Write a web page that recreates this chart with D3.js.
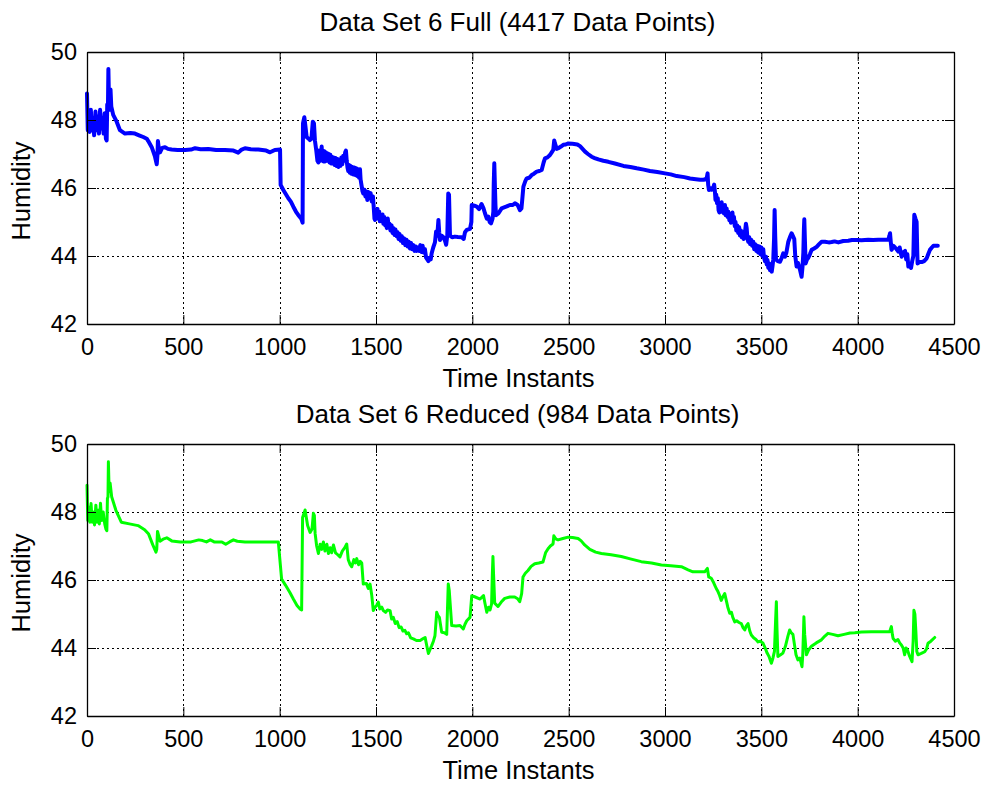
<!DOCTYPE html>
<html>
<head>
<meta charset="utf-8">
<script src="https://cdn.jsdelivr.net/npm/d3@7"></script>
<style>
  body { margin: 0; background: #fff; }
  text { font-family: "Liberation Sans", Arial, sans-serif; fill: #000; }
</style>
</head>
<body>
<svg id="chart" width="988" height="788"></svg>
<script>
// axis ranges + ticks
const xTicks = [0, 500, 1000, 1500, 2000, 2500, 3000, 3500, 4000, 4500];
const yTicks = [42, 44, 46, 48, 50];

// full data set ([time instant, humidity])
const fullData = [
  [0,48.78],[4,47.7],[9,48.2],[14,47.65],[20,48.3],[25,47.7],[31,48.05],[37,47.55],[44,48.25],[50,47.7],
  [56,48.1],[62,47.6],[68,48.3],[74,47.75],[80,48.05],[86,47.6],[92,48.2],[98,47.45],[102,47.4],[105,48.45],
  [109,48.5],[111,49.5],[114,48.6],[118,48.3],[122,48.9],[126,48.4],[136,48.15],[154,47.95],[171,47.7],[197,47.6],
  [225,47.62],[249,47.6],[270,47.55],[292,47.5],[310,47.45],[318,47.38],[336,47.2],[353,46.92],[362,46.7],[366,47.0],
  [368,47.38],[374,47.1],[379,47.05],[390,47.18],[405,47.2],[420,47.15],[439,47.13],[470,47.12],[509,47.12],[540,47.13],
  [561,47.17],[590,47.14],[630,47.15],[670,47.12],[716,47.12],[760,47.1],[785,47.04],[800,47.12],[820,47.17],[850,47.14],
  [889,47.13],[930,47.1],[950,47.05],[975,47.12],[1002,47.13],[1005,46.09],[1019,45.94],[1045,45.7],[1058,45.6],[1071,45.45],
  [1085,45.3],[1097,45.2],[1112,45.1],[1119,44.98],[1121,47.9],[1128,48.08],[1134,47.8],[1140,47.5],[1150,47.45],[1157,47.41],
  [1165,47.45],[1172,47.95],[1178,47.9],[1183,47.4],[1190,47.1],[1196,46.8],[1201,46.75],[1204,47.1],[1207,46.85],[1210,47.1],
  [1213,46.8],[1218,47.22],[1221,46.85],[1224,47.1],[1228,46.78],[1232,47.08],[1235,46.78],[1239,47.05],[1243,46.8],[1247,47.02],
  [1251,46.8],[1255,47.0],[1259,46.75],[1263,46.98],[1267,46.72],[1271,46.92],[1275,46.72],[1280,46.9],[1285,46.68],[1290,46.88],
  [1295,46.65],[1300,46.85],[1305,46.62],[1310,46.8],[1315,46.65],[1320,46.9],[1325,46.7],[1330,46.95],[1335,46.8],[1340,47.05],
  [1344,47.1],[1348,46.8],[1352,46.6],[1356,46.5],[1360,46.68],[1364,46.45],[1368,46.65],[1372,46.42],[1377,46.62],[1382,46.4],
  [1387,46.6],[1392,46.38],[1397,46.58],[1402,46.35],[1407,46.55],[1412,46.3],[1417,46.55],[1420,46.25],[1426,46.04],[1430,45.9],
  [1434,45.84],[1440,45.95],[1445,45.75],[1450,45.9],[1455,45.65],[1460,45.88],[1466,45.7],[1472,45.85],[1478,45.6],[1484,45.75],
  [1488,45.45],[1492,45.1],[1495,45.06],[1499,45.35],[1503,45.15],[1508,45.38],[1512,45.1],[1517,45.3],[1520,45.02],[1525,45.2],
  [1529,45.05],[1534,45.22],[1538,44.95],[1543,45.15],[1548,44.9],[1552,45.05],[1556,44.82],[1561,45.1],[1566,44.85],[1570,44.95],
  [1575,44.75],[1581,44.9],[1586,44.68],[1591,44.82],[1596,44.62],[1601,44.78],[1607,44.58],[1612,44.7],[1617,44.5],[1622,44.65],
  [1628,44.45],[1634,44.58],[1640,44.38],[1646,44.52],[1652,44.32],[1658,44.48],[1664,44.28],[1670,44.42],[1676,44.22],[1682,44.38],
  [1688,44.2],[1694,44.32],[1700,44.15],[1706,44.28],[1712,44.15],[1718,44.25],[1724,44.15],[1730,44.32],[1736,44.12],[1742,44.3],
  [1748,44.1],[1754,44.2],[1760,43.95],[1766,43.9],[1772,43.85],[1778,43.95],[1784,43.9],[1789,44.08],[1797,44.25],[1806,44.4],
  [1812,44.72],[1818,44.6],[1824,45.06],[1828,44.7],[1832,44.47],[1840,44.6],[1850,44.55],[1858,44.45],[1864,44.33],[1870,44.6],
  [1875,45.84],[1879,45.8],[1884,44.6],[1895,44.55],[1910,44.57],[1925,44.56],[1945,44.55],[1955,44.5],[1962,44.7],[1971,44.77],
  [1988,44.8],[1995,45.0],[1997,45.5],[2010,45.48],[2023,45.45],[2035,45.38],[2048,45.53],[2058,45.4],[2066,45.25],[2075,45.1],
  [2083,45.16],[2090,45.0],[2097,44.96],[2105,45.1],[2109,45.3],[2111,46.1],[2114,46.73],[2117,46.1],[2120,45.5],[2123,45.2],
  [2135,45.25],[2152,45.4],[2175,45.45],[2195,45.5],[2210,45.5],[2221,45.55],[2235,45.5],[2247,45.35],[2255,45.4],[2259,45.65],
  [2265,46.04],[2275,46.2],[2282,46.28],[2295,46.3],[2308,46.38],[2320,46.42],[2334,46.48],[2348,46.5],[2360,46.53],[2370,46.75],
  [2377,46.87],[2390,46.9],[2403,46.97],[2412,47.05],[2420,47.12],[2425,47.4],[2429,47.31],[2438,47.15],[2446,47.17],[2460,47.22],
  [2472,47.27],[2485,47.28],[2498,47.31],[2520,47.3],[2545,47.28],[2559,47.23],[2572,47.15],[2585,47.07],[2600,47.0],[2619,46.92],
  [2635,46.88],[2654,46.84],[2680,46.8],[2706,46.77],[2740,46.72],[2784,46.65],[2820,46.62],[2853,46.58],[2890,46.54],[2922,46.5],
  [2960,46.47],[3000,46.43],[3030,46.4],[3061,46.35],[3100,46.32],[3130,46.28],[3160,46.26],[3182,46.24],[3200,46.24],[3208,46.26],
  [3215,46.25],[3221,46.43],[3224,46.1],[3228,45.94],[3235,46.0],[3242,45.95],[3250,46.0],[3255,46.1],[3259,45.9],[3262,45.65],
  [3266,45.8],[3270,45.55],[3274,45.7],[3278,45.35],[3282,45.28],[3286,45.5],[3290,45.35],[3294,45.58],[3298,45.3],[3302,45.48],
  [3306,45.25],[3311,45.5],[3315,45.2],[3320,45.4],[3325,45.15],[3329,45.3],[3334,45.05],[3338,45.2],[3342,44.98],[3346,45.1],
  [3350,45.28],[3354,45.0],[3358,45.15],[3362,44.88],[3366,45.0],[3370,44.75],[3375,44.9],[3380,44.68],[3385,44.85],[3389,44.6],
  [3394,44.75],[3398,44.55],[3403,44.7],[3408,44.5],[3414,44.65],[3420,44.95],[3424,44.82],[3428,44.5],[3432,44.42],[3437,44.55],
  [3442,44.35],[3447,44.48],[3452,44.3],[3458,44.42],[3463,44.2],[3468,44.35],[3474,44.15],[3479,44.3],[3484,44.1],[3490,44.28],
  [3495,44.05],[3500,44.25],[3505,44.0],[3510,44.2],[3514,43.95],[3519,43.85],[3524,43.98],[3528,43.75],[3532,43.88],[3536,43.65],
  [3541,43.78],[3545,43.58],[3550,43.7],[3554,43.54],[3558,43.7],[3562,43.9],[3566,44.5],[3569,45.35],[3572,44.6],[3576,43.9],
  [3585,43.85],[3597,43.83],[3606,43.95],[3614,44.08],[3623,43.98],[3630,44.1],[3640,44.42],[3648,44.55],[3657,44.67],[3663,44.6],
  [3671,44.5],[3676,44.0],[3683,43.69],[3690,43.8],[3701,43.59],[3709,43.39],[3714,43.7],[3718,44.1],[3721,44.8],[3723,45.08],
  [3726,44.5],[3730,43.78],[3737,43.9],[3744,43.95],[3752,44.05],[3761,44.18],[3774,44.22],[3787,44.27],[3800,44.35],[3813,44.42],
  [3830,44.42],[3850,44.4],[3865,44.41],[3880,44.43],[3900,44.4],[3925,44.44],[3951,44.45],[3970,44.47],[3995,44.47],[4020,44.46],
  [4055,44.48],[4080,44.47],[4107,44.48],[4135,44.48],[4159,44.48],[4165,44.6],[4168,44.67],[4172,44.4],[4176,44.18],[4185,44.3],
  [4194,44.25],[4202,44.2],[4211,44.13],[4218,44.25],[4228,43.98],[4236,44.1],[4246,44.15],[4252,43.9],[4258,44.05],[4263,43.69],
  [4270,43.75],[4277,43.65],[4283,43.85],[4289,44.0],[4292,44.8],[4294,45.21],[4300,45.1],[4306,45.0],[4309,44.2],[4311,43.78],
  [4320,43.82],[4332,43.82],[4345,43.85],[4358,43.93],[4366,44.05],[4375,44.18],[4385,44.25],[4393,44.3],[4405,44.3],[4416,44.3]
];

// reduced data set
const reducedData = [
  [0,48.79],[4,47.75],[9,48.15],[15,47.7],[21,48.25],[27,47.7],[33,48.0],[39,47.62],[46,48.2],[52,47.7],
  [58,48.05],[64,47.65],[70,48.26],[76,47.75],[84,48.0],[92,47.65],[98,47.5],[103,47.45],[106,48.4],[109,48.45],
  [111,49.48],[115,48.6],[120,48.85],[128,48.45],[150,48.05],[178,47.7],[220,47.65],[265,47.6],[299,47.48],[320,47.35],
  [341,47.04],[358,46.82],[362,46.9],[366,47.43],[379,47.14],[395,47.2],[414,47.24],[440,47.15],[484,47.12],[540,47.12],
  [580,47.18],[600,47.16],[620,47.12],[640,47.18],[660,47.12],[700,47.12],[720,47.05],[740,47.12],[760,47.18],[780,47.14],
  [820,47.12],[880,47.12],[940,47.12],[993,47.12],[1010,46.03],[1030,45.85],[1053,45.63],[1071,45.44],[1090,45.25],[1105,45.15],
  [1114,45.12],[1119,47.84],[1132,48.06],[1145,47.6],[1158,47.4],[1168,47.5],[1175,47.96],[1180,47.9],[1184,47.37],[1192,47.0],
  [1201,46.78],[1210,47.05],[1218,46.9],[1227,47.12],[1235,46.85],[1245,47.05],[1253,46.78],[1262,46.95],[1270,46.8],[1279,47.03],
  [1290,46.8],[1300,46.75],[1313,46.68],[1325,46.85],[1338,46.95],[1348,47.06],[1356,46.6],[1366,46.45],[1374,46.39],[1385,46.6],
  [1393,46.5],[1400,46.63],[1410,46.45],[1418,46.55],[1426,46.5],[1434,45.88],[1450,45.9],[1460,45.75],[1469,45.88],[1478,45.55],
  [1486,45.1],[1495,45.2],[1503,45.25],[1512,45.35],[1520,45.15],[1530,45.2],[1538,45.1],[1550,45.05],[1560,45.12],[1573,45.1],
  [1581,44.85],[1590,44.9],[1600,44.72],[1610,44.78],[1620,44.6],[1630,44.62],[1640,44.5],[1650,44.52],[1659,44.42],[1668,44.45],
  [1680,44.3],[1694,44.27],[1710,44.22],[1729,44.22],[1745,44.28],[1755,44.31],[1764,44.05],[1772,43.84],[1780,43.95],[1789,44.07],
  [1798,44.2],[1806,44.36],[1815,45.05],[1822,44.95],[1829,44.9],[1841,44.46],[1855,44.45],[1867,44.4],[1875,45.88],[1880,45.7],
  [1893,44.66],[1915,44.65],[1936,44.66],[1953,44.56],[1962,44.7],[1971,44.8],[1988,44.9],[1997,45.54],[2015,45.5],[2040,45.44],
  [2058,45.54],[2066,45.3],[2075,45.05],[2084,45.2],[2092,45.12],[2100,45.3],[2104,46.2],[2107,46.69],[2110,46.2],[2116,45.32],
  [2133,45.22],[2150,45.35],[2168,45.46],[2195,45.5],[2220,45.5],[2235,45.45],[2246,45.36],[2256,45.6],[2263,46.09],[2275,46.2],
  [2289,46.28],[2305,46.4],[2324,46.48],[2345,46.5],[2367,46.53],[2380,46.8],[2393,46.92],[2405,47.0],[2419,47.06],[2423,47.3],
  [2427,47.26],[2435,47.2],[2445,47.18],[2470,47.22],[2497,47.26],[2520,47.25],[2549,47.22],[2565,47.15],[2583,47.03],[2610,46.9],
  [2640,46.82],[2670,46.78],[2720,46.74],[2773,46.69],[2820,46.62],[2877,46.54],[2930,46.5],[2981,46.44],[3030,46.42],[3085,46.39],
  [3120,46.3],[3145,46.24],[3180,46.24],[3206,46.24],[3220,46.34],[3227,46.09],[3240,46.05],[3250,45.95],[3258,45.85],[3266,45.75],
  [3275,45.66],[3283,45.55],[3292,45.4],[3300,45.5],[3310,45.6],[3318,45.4],[3326,45.2],[3336,45.02],[3345,45.05],[3352,44.9],
  [3362,44.77],[3372,44.8],[3384,44.75],[3396,44.72],[3405,44.6],[3414,44.53],[3422,44.65],[3431,44.72],[3440,44.5],[3448,44.38],
  [3460,44.3],[3472,44.25],[3483,44.18],[3495,44.2],[3509,44.14],[3520,44.0],[3530,43.85],[3540,43.75],[3552,43.55],[3560,43.7],
  [3568,43.9],[3574,44.8],[3578,45.36],[3581,44.6],[3586,43.75],[3600,43.8],[3612,43.85],[3625,44.05],[3638,44.35],[3647,44.53],
  [3655,44.45],[3664,44.4],[3672,44.1],[3680,43.8],[3690,43.65],[3700,43.7],[3711,43.45],[3715,43.8],[3719,44.5],[3721,44.92],
  [3725,44.4],[3734,43.8],[3746,43.95],[3760,44.05],[3785,44.15],[3812,44.24],[3830,44.35],[3846,44.43],[3870,44.4],[3898,44.36],
  [3930,44.4],[3960,44.44],[3985,44.45],[4020,44.47],[4071,44.48],[4120,44.48],[4166,44.48],[4175,44.63],[4180,44.4],[4184,44.28],
  [4196,44.2],[4209,44.25],[4218,44.15],[4227,44.09],[4236,44.0],[4244,43.8],[4251,44.0],[4258,43.95],[4270,43.75],[4282,43.6],
  [4288,44.2],[4292,45.11],[4297,45.0],[4302,44.5],[4307,43.9],[4313,43.8],[4330,43.84],[4348,43.89],[4358,43.98],[4365,44.14],
  [4380,44.2],[4400,44.31]
];

const panels = [
  { title: 'Data Set 6 Full (4417 Data Points)', data: fullData, colour: '#0000ff', stroke: 4, top: 52 },
  { title: 'Data Set 6 Reduced (984 Data Points)', data: reducedData, colour: '#00ff00', stroke: 3, top: 444 }
];

const svg = d3.select('#chart');
const left = 87, plotW = 867, plotH = 272;
const tickLen = 9;

const x = d3.scaleLinear().domain([0, 4500]).range([left, left + plotW]);

panels.forEach(p => {
  const y = d3.scaleLinear().domain([42, 50]).range([p.top + plotH, p.top]);
  const g = svg.append('g').attr('class', 'panel');

  // dotted grid
  const grid = g.append('g').attr('class', 'grid')
    .attr('stroke', '#000').attr('stroke-width', 1).attr('stroke-dasharray', '2,3');
  grid.selectAll('line.gx')
    .data(xTicks.slice(1, -1))
    .enter().append('line')
      .attr('x1', d => Math.round(x(d)) + 0.5).attr('x2', d => Math.round(x(d)) + 0.5)
      .attr('y1', p.top).attr('y2', p.top + plotH);
  grid.selectAll('line.gy')
    .data(yTicks.slice(1, -1))
    .enter().append('line')
      .attr('y1', d => Math.round(y(d)) + 0.5).attr('y2', d => Math.round(y(d)) + 0.5)
      .attr('x1', left).attr('x2', left + plotW);

  // data line
  const line = d3.line().x(d => x(d[0])).y(d => y(d[1]));
  g.append('path')
    .datum(p.data)
    .attr('fill', 'none')
    .attr('stroke', p.colour)
    .attr('stroke-width', p.stroke)
    .attr('stroke-linejoin', 'round')
    .attr('stroke-linecap', 'round')
    .attr('d', line);

  // axes, ticks pointing inward (box on)
  const fmt = d3.format('d');
  const xb = g.append('g')
    .attr('transform', 'translate(0,' + (p.top + plotH) + ')')
    .call(d3.axisBottom(x).tickValues(xTicks).tickFormat(fmt).tickSize(-tickLen).tickPadding(14).tickSizeOuter(0));
  const xt = g.append('g')
    .attr('transform', 'translate(0,' + p.top + ')')
    .call(d3.axisTop(x).tickValues(xTicks).tickSize(-tickLen).tickFormat('').tickSizeOuter(0));
  const yl = g.append('g')
    .attr('transform', 'translate(' + left + ',0)')
    .call(d3.axisLeft(y).tickValues(yTicks).tickFormat(fmt).tickSize(-tickLen).tickPadding(10).tickSizeOuter(0));
  const yr = g.append('g')
    .attr('transform', 'translate(' + (left + plotW) + ',0)')
    .call(d3.axisRight(y).tickValues(yTicks).tickSize(-tickLen).tickFormat('').tickSizeOuter(0));

  [xb, xt, yl, yr].forEach(a => {
    a.selectAll('path.domain').attr('stroke', '#000').attr('stroke-width', 1.3);
    a.selectAll('.tick line').attr('stroke', '#000').attr('stroke-width', 1);
    a.selectAll('.tick text')
      .attr('font-family', '"Liberation Sans", Arial, sans-serif')
      .attr('font-size', 23.5).attr('fill', '#000');
  });

  // title + axis labels
  g.append('text')
    .attr('x', left + plotW / 2 - 3).attr('y', p.top - 21)
    .attr('text-anchor', 'middle').attr('font-size', 26)
    .text(p.title);
  g.append('text')
    .attr('x', left + plotW / 2 - 2).attr('y', p.top + plotH + 63)
    .attr('text-anchor', 'middle').attr('font-size', 25.5)
    .text('Time Instants');
  g.append('text')
    .attr('transform', 'translate(30,' + (p.top + plotH / 2 + 3) + ') rotate(-90)')
    .attr('text-anchor', 'middle').attr('font-size', 25.5)
    .text('Humidity');
});
</script>
</body>
</html>
